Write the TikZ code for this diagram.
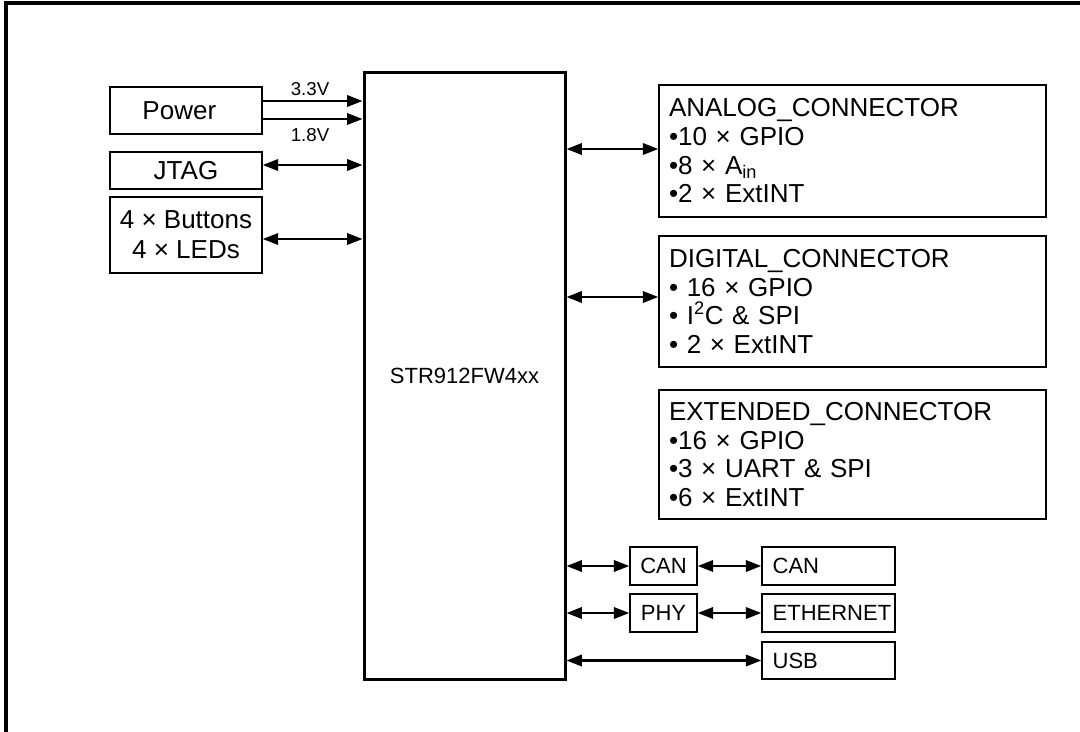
\documentclass[tikz,border=0pt]{standalone}
\usepackage{fontspec}
\setmainfont{Liberation Sans}
\usetikzlibrary{arrows.meta}
\begin{document}
\begin{tikzpicture}[x=0.75pt,y=-0.75pt,
  box/.style={draw, line width=1.1pt, inner sep=0pt},
  big/.style={font=\fontsize{19.5}{21.5}\selectfont},
  small/.style={font=\fontsize{16.5}{18}\selectfont},
  lbl/.style={font=\fontsize{14}{16}\selectfont, inner sep=0pt},
  leftbox/.style={box, big, minimum width=114pt, align=center},
  conn/.style={box, big, align=left, text width=275.25pt, minimum width=290.25pt, inner xsep=7.5pt},
  sbox/.style={box, small, minimum height=28.5pt},
  rbox/.style={sbox, minimum width=99.75pt, text width=83.75pt, inner xsep=8pt, align=left},
  tip/.tip={Triangle[length=11.5pt,width=8.5pt]},
  arr/.style={line width=1.7pt, -tip},
  darr/.style={line width=1.7pt, tip-tip}
]
\useasboundingbox (0,0) rectangle (1080,731);
% frame
\draw[line width=3pt] (6,733) -- (6,3) -- (1082,3);

% left boxes
\node[leftbox, minimum height=35.25pt] (power) at (186,110.5) {Power\hspace{10pt}};
\node[leftbox, minimum height=27.75pt] (jtag) at (186,170.5) {JTAG};
\node[leftbox, minimum height=57pt, font=\fontsize{19.5}{22.5}\selectfont] (btn) at (186,235) {4 × Buttons\\4 × LEDs};

% MCU
\node[draw, line width=2.25pt, minimum width=150.75pt, minimum height=454.5pt,
      font=\fontsize{16.5}{18}\selectfont] (mcu) at (464.5,376) {STR912FW4xx};

% connectors
\node[conn, minimum height=99pt] (ana) at (852.5,151)
  {ANALOG\_CONNECTOR\\•10 × GPIO\\•8 × A\textsubscript{in}\\•2 × ExtINT};
\node[conn, minimum height=98.25pt] (dig) at (852.5,301.5)
  {DIGITAL\_CONNECTOR\\• 16 × GPIO\\• I\textsuperscript{2}C \& SPI\\• 2 × ExtINT};
\node[conn, minimum height=96.75pt] (ext) at (852.5,454.5)
  {EXTENDED\_CONNECTOR\\•16 × GPIO\\•3 × UART \& SPI\\•6 × ExtINT};

% small boxes
\node[sbox, minimum width=50.25pt] (can1) at (663.5,566) {CAN};
\node[sbox, minimum width=50.25pt] (phy) at (663.5,613) {PHY};
\node[rbox] (can2) at (828.5,566) {CAN};
\node[rbox] (eth) at (828.5,613) {ETHERNET};
\node[rbox, minimum height=27.75pt] (usb) at (828.5,660.5) {USB};

% helper coordinates
\coordinate (y33) at (0,101);
\coordinate (y18) at (0,119);
\coordinate (yj) at (0,165);
\coordinate (yb) at (0,239);
\coordinate (ya) at (0,149);
\coordinate (yd) at (0,297);

% power arrows
\draw[arr] (power.east |- y33) -- (mcu.west |- y33);
\draw[arr] (power.east |- y18) -- (mcu.west |- y18);
\node[lbl] (l33) at (310,89) {3.3V};
\node[lbl] (l18) at (310,135) {1.8V};

\draw[darr] (jtag.east |- yj) -- (mcu.west |- yj);
\draw[darr] (btn.east |- yb) -- (mcu.west |- yb);

\draw[darr] (mcu.east |- ya) -- (ana.west |- ya);
\draw[darr] (mcu.east |- yd) -- (dig.west |- yd);

\draw[darr] (mcu.east |- can1.west) -- (can1.west);
\draw[darr] (can1.east) -- (can2.west);
\draw[darr] (mcu.east |- phy.west) -- (phy.west);
\draw[darr] (phy.east) -- (eth.west);
\draw[darr] (mcu.east |- usb.west) -- (usb.west);
\end{tikzpicture}
\end{document}
